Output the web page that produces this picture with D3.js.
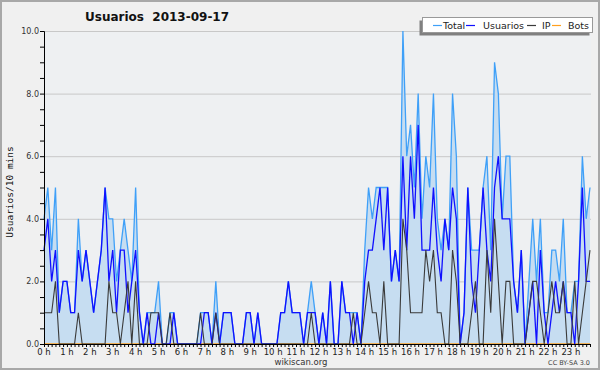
<!DOCTYPE html>
<html><head><meta charset="utf-8">
<script src="https://cdn.jsdelivr.net/npm/d3@7"></script>
<style>body{margin:0;background:#fff}svg{display:block}text{font-family:"DejaVu Sans",Verdana,sans-serif}</style>
</head><body><svg id="c" width="600" height="370"></svg>
<script>
// 10-minute slots (144 per day)
const total = [4,5,3,5,1,2,2,1,1,4, 2,3,2,1,2,3,5,4,4,2, 3,4,3,2,5,1,0,1,1,1, 2,0,0,1,1,0,0,0,0,0,
  0,1,1,1,0,2,0,1,1,1, 0,0,0,1,1,0,1,0,0,0, 0,0,1,1,2,1,1,1,0,1, 2,1,0,1,0,2,0,0,2,1,
  1,1,1,0,3,5,4,5,5,5, 5,2,3,2,10,6,7,5,8,4, 6,5,8,4,3,4,3,8,6,0, 1,5,3,3,3,5,6,3,9,8,
  4,6,6,2,1,3,0,2,4,2, 4,1,1,3,3,2,4,1,1,2, 2,6,4,5];
const usuarios = [3,4,2,3,1,2,2,1,1,3, 2,3,2,1,2,3,5,2,3,1, 3,3,1,2,3,1,0,1,0,0, 1,0,0,0,1,0,0,0,0,0,
  0,0,1,1,0,1,0,1,1,1, 0,0,0,1,1,0,1,0,0,0, 0,0,1,1,2,1,1,1,0,1, 1,1,0,1,0,2,0,0,2,1,
  1,0,1,0,2,3,3,4,5,3, 5,2,3,2,6,3,6,4,7,3, 3,3,5,3,2,4,3,5,4,0, 1,5,2,1,3,5,3,2,5,6,
  4,4,4,2,1,3,0,1,2,0, 3,1,0,1,2,1,2,1,1,0, 2,5,2,2];
const ip = [1,1,1,2,0,0,0,0,0,1, 0,0,0,0,0,0,0,2,1,1, 0,1,2,0,2,0,0,0,1,1, 1,0,0,1,0,0,0,0,0,0,
  0,1,0,0,0,1,0,0,0,0, 0,0,0,0,0,0,0,0,0,0, 0,0,0,0,0,0,0,0,0,0, 1,0,0,0,0,0,0,0,0,0,
  0,1,0,0,1,2,1,1,0,2, 0,0,0,0,4,3,1,1,1,1, 3,2,3,1,1,0,0,3,2,0, 0,0,1,2,0,0,3,1,4,2,
  0,2,2,0,0,0,0,1,2,2, 1,0,1,2,1,1,2,0,0,2, 0,1,2,3];
const bots = [0,0,0,0,0,0,0,0,0,0, 0,0,0,0,0,0,0,0,0,0, 0,0,0,0,0,0,0,0,0,0, 0,0,0,0,0,0,0,0,0,0,
  0,0,0,0,0,0,0,0,0,0, 0,0,0,0,0,0,0,0,0,0, 0,0,0,0,0,0,0,0,0,0, 0,0,0,0,0,0,0,0,0,0,
  0,0,0,0,0,0,0,0,0,0, 0,0,0,0,0,0,0,0,0,0, 0,0,0,0,0,0,0,0,0,0, 0,0,0,0,0,0,0,0,0,0,
  0,0,0,0,0,0,0,0,0,0, 0,0,0,0,0,0,0,0,0,0, 0,0,0,0];
const hourLabels = ["0 h","1 h","2 h","3 h","4 h","5 h","6 h","7 h","8 h","9 h","10 h","11 h","12 h","13 h","14 h","15 h","16 h","17 h","18 h","19 h","20 h","21 h","22 h","23 h"];
const yTickLabels = ["0.0","2.0","4.0","6.0","8.0","10.0"];
const yTickValues = [0,2,4,6,8,10];
const title = "Usuarios  2013-09-17";
const yTitle = "Usuarios/10 mins";
const legendItems = [["Total","#3fa0f8"],["Usuarios","#1010ff"],["IP","#3a3a3a"],["Bots","#ffa020"]];

const svg = d3.select("#c");
const L = 44, R = 591, T = 31, B = 344;
const x = d3.scaleLinear().domain([0, 143]).range([L, 590]);
const y = d3.scaleLinear().domain([0, 10]).range([B, T]);

svg.append("rect").attr("x",1).attr("y",1).attr("width",598).attr("height",368)
  .attr("fill","#f0f0f0").attr("stroke","#a8a8a8").attr("stroke-width",2);
svg.append("rect").attr("x",L).attr("y",T).attr("width",R-L).attr("height",B-T).attr("fill","#eef0f2");

// grid
svg.append("g").selectAll("line").data(yTickValues.filter(v=>v>0)).join("line")
  .attr("x1",L).attr("x2",R).attr("y1",d=>y(d)+0.5).attr("y2",d=>y(d)+0.5)
  .attr("stroke","#c8c8c8").attr("stroke-width",1);

const idx = d3.range(total.length);
svg.append("path").datum(idx)
  .attr("d", d3.area().x(i=>x(i)).y0(B).y1(i=>y(total[i])))
  .attr("fill","#c6ddf1");
function line(arr, color, w){
  svg.append("path").datum(idx)
    .attr("d", d3.line().x(i=>x(i)).y(i=>y(arr[i])))
    .attr("fill","none").attr("stroke",color).attr("stroke-width",w).attr("stroke-linejoin","miter");
}
line(bots, legendItems[3][1], 1.3);
line(total, legendItems[0][1], 1.3);
line(usuarios, legendItems[1][1], 1.3);
line(ip, legendItems[2][1], 1.1);

// y axis
const yAxis = d3.axisLeft(y).tickValues(d3.range(0, 10.01, 0.5)).tickSize(4)
  .tickFormat(d => { const k = yTickValues.indexOf(d); return k >= 0 ? yTickLabels[k] : ""; });
const gy = svg.append("g").attr("transform",`translate(${L},0)`).call(yAxis);
gy.select(".domain").attr("stroke","#000");
gy.selectAll(".tick line").attr("stroke","#000");
gy.selectAll(".tick text").attr("font-size",8).attr("fill","#333").attr("x",-5)
  .attr("font-family","DejaVu Sans");

// x axis
const xAxis = d3.axisBottom(x).tickValues(d3.range(0, 144, 1)).tickSize(3).tickFormat("");
const gx = svg.append("g").attr("transform",`translate(0,${B})`).call(xAxis);
gx.select(".domain").attr("d",`M${L},0.5H${R}`).attr("stroke","#000");
gx.selectAll(".tick line").attr("stroke","#000");
svg.append("g").selectAll("text").data(hourLabels).join("text")
  .attr("x",(d,h)=>x(h*6)).attr("y",355).attr("text-anchor","middle")
  .attr("font-size",8.5).attr("fill","#222").text(d=>d);

// titles
svg.append("text").attr("x",85).attr("y",21).attr("font-size",12).attr("font-weight","bold")
  .attr("fill","#111").attr("xml:space","preserve").style("white-space","pre").text(title);
svg.append("text").attr("transform","translate(13,192) rotate(-90)").attr("text-anchor","middle")
  .attr("font-family","DejaVu Sans Mono").style("font-family","DejaVu Sans Mono")
  .attr("font-size",9.5).attr("fill","#111").text(yTitle);
svg.append("text").attr("x",301).attr("y",365).attr("text-anchor","middle").attr("font-size",8.5)
  .attr("fill","#333").text("wikiscan.org");
svg.append("text").attr("x",590).attr("y",365).attr("text-anchor","end").attr("font-size",6.5)
  .attr("fill","#444").text("CC BY-SA 3.0");

// legend
const lg = svg.append("g");
lg.append("rect").attr("x",419.5).attr("y",20.5).attr("width",170).attr("height",15).attr("fill","#808080");
lg.append("rect").attr("x",422.5).attr("y",17.5).attr("width",170).attr("height",15).attr("fill","#fff").attr("stroke","#999");
const lx = [433, 466, 527, 552];
legendItems.forEach((it,k)=>{
  lg.append("line").attr("x1",lx[k]).attr("x2",lx[k]+9).attr("y1",25.5).attr("y2",25.5).attr("stroke",it[1]).attr("stroke-width",1.2);
  lg.append("text").attr("x",lx[k]+(k===2?15:k===3?16:k===1?17:10)).attr("y",29).attr("font-size",9.5).attr("fill","#222").text(it[0]);
});
</script></body></html>
